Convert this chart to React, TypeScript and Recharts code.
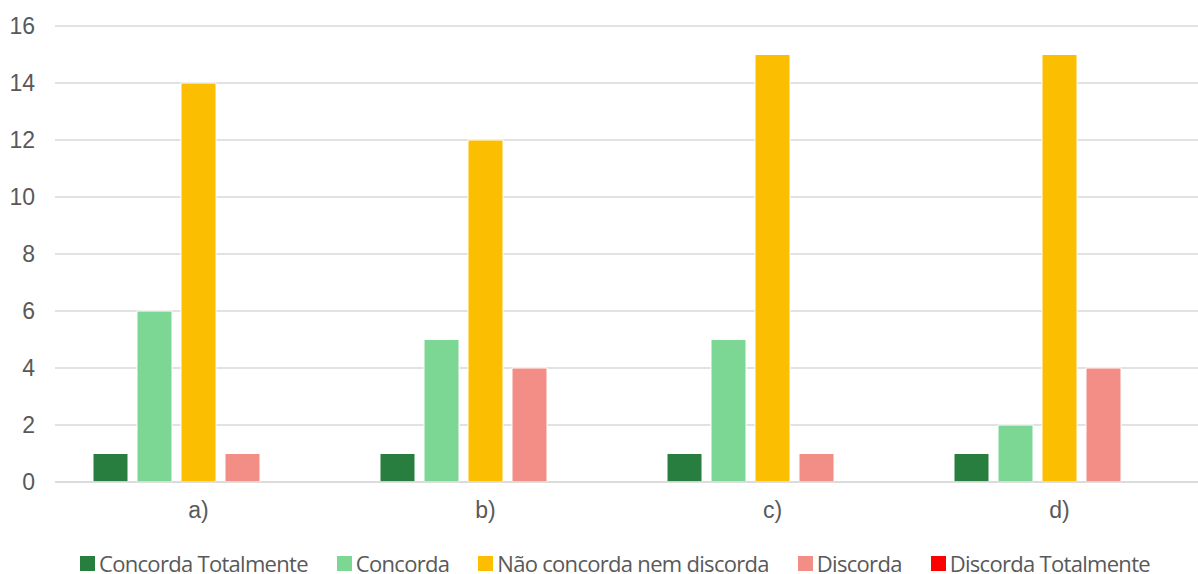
import React from 'react';
import { BarChart, Bar, XAxis, YAxis, CartesianGrid, Legend } from 'recharts';

// Survey answers per question
const categories = ['a)', 'b)', 'c)', 'd)'];
const concordaTotalmente = [1, 1, 1, 1];
const concorda = [6, 5, 5, 2];
const naoConcordaNemDiscorda = [14, 12, 15, 15];
const discorda = [1, 4, 1, 4];
const discordaTotalmente = [0, 0, 0, 0];
const yTicks = [0, 2, 4, 6, 8, 10, 12, 14, 16];

const seriesDefs = [
  { key: 'ct', name: 'Concorda Totalmente', color: '#287E3F', values: concordaTotalmente },
  { key: 'c', name: 'Concorda', color: '#7DD794', values: concorda },
  { key: 'n', name: 'Não concorda nem discorda', color: '#FBBE00', values: naoConcordaNemDiscorda },
  { key: 'd', name: 'Discorda', color: '#F38E86', values: discorda },
  { key: 'dt', name: 'Discorda Totalmente', color: '#FF0000', values: discordaTotalmente },
];

const data = categories.map((cat, i) => {
  const row: Record<string, string | number> = { cat };
  seriesDefs.forEach((s) => {
    row[s.key] = s.values[i];
  });
  return row;
});

const axisFont = { fontFamily: '"Liberation Sans", Arial, sans-serif', fontSize: 23, fill: '#595959' };

const LegendContent = () => (
  <div
    style={{
      height: 26,
      boxSizing: 'border-box',
      paddingTop: 6,
      paddingLeft: 32,
      display: 'flex',
      justifyContent: 'center',
      alignItems: 'flex-start',
      gap: 29,
    }}
  >
    {seriesDefs.map((s) => (
      <div key={s.key} style={{ display: 'flex', alignItems: 'center', height: 19 }}>
        <span style={{ width: 15, height: 15, background: s.color, marginRight: 4, display: 'inline-block' }} />
        <span
          style={{
            display: 'inline-block',
            height: 19,
            overflow: 'hidden',
            fontFamily: '"Open Sans", sans-serif',
            fontSize: 22,
            letterSpacing: -0.7,
            lineHeight: '19px',
            color: '#595959',
            whiteSpace: 'nowrap',
          }}
        >
          {s.name}
        </span>
      </div>
    ))}
  </div>
);

export default function App() {
  return (
    <div
      style={{
        position: 'absolute',
        left: 0,
        top: 0,
        width: 1198,
        height: 574,
        overflow: 'hidden',
        background: '#fff',
      }}
    >
      <BarChart
        width={1203}
        height={574}
        data={data}
        margin={{ top: 26, right: 0, left: 0, bottom: 0 }}
        barSize={35}
        barGap={9}
      >
        <CartesianGrid vertical={false} stroke="#d9d9d9" strokeWidth={1.3} />
        <XAxis
          dataKey="cat"
          height={66}
          axisLine={{ stroke: '#d9d9d9', strokeWidth: 1.3 }}
          tickLine={false}
          tickSize={0}
          tickMargin={20}
          tick={axisFont}
        />
        <YAxis
          width={55}
          domain={[0, 16]}
          ticks={yTicks}
          axisLine={false}
          tickLine={false}
          tickSize={0}
          tickMargin={20}
          tick={axisFont}
          interval={0}
        />
        <Legend verticalAlign="bottom" content={LegendContent} wrapperStyle={{ bottom: 0, left: 0, width: 1198 }} />
        {seriesDefs.map((s) => (
          <Bar
            key={s.key}
            dataKey={s.key}
            name={s.name}
            fill={s.color}
            stroke="#ffffff"
            strokeWidth={1}
            isAnimationActive={false}
          />
        ))}
      </BarChart>
    </div>
  );
}
